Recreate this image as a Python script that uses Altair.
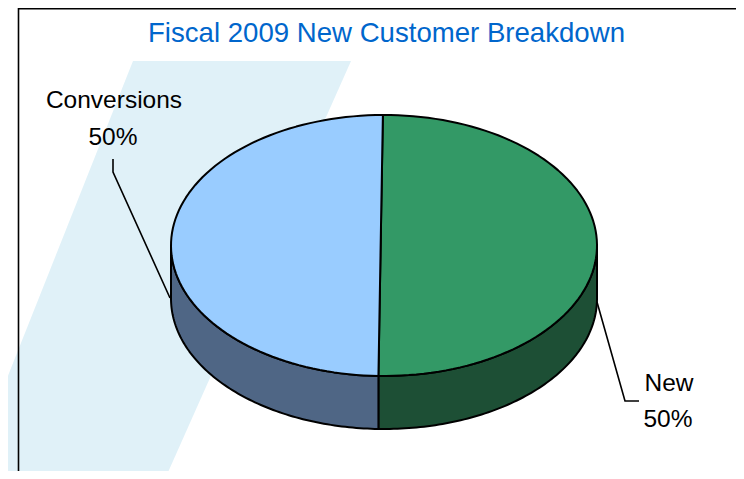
import altair as alt
import numpy as np
import pandas as pd

TITLE = "Fiscal 2009 New Customer Breakdown"
categories = ["New", "Conversions"]
shares = [50.5, 49.5]
top_colors = ["#339966", "#99ccff"]
side_colors = ["#1d4f35", "#4f6685"]

CX, CY, RX, RY, DEPTH = 384.0, 245.5, 213.0, 130.5, 53.0
START = -0.3
W, H = 728, 463
X = alt.X("x:Q", axis=None, scale=alt.Scale(domain=[8, 8 + W], nice=False, zero=False))
Y = alt.Y("y:Q", axis=None, scale=alt.Scale(domain=[8 + H, 8], nice=False, zero=False))


def arc(a0, a1):
    t = np.radians(np.linspace(a0, a1, 90))
    return CX + RX * np.sin(t), CY - RY * np.cos(t)


def filled(xs, ys, fill, width=2.0):
    df = pd.DataFrame({"x": xs, "y": ys, "i": range(len(xs))})
    return alt.Chart(df).mark_line(
        fill=fill, stroke="black", strokeWidth=width, interpolate="linear-closed",
        strokeJoin="round", clip=True,
    ).encode(x=X, y=Y, order="i:Q")


def path(xs, ys, width=1.6):
    df = pd.DataFrame({"x": xs, "y": ys, "i": range(len(xs))})
    return alt.Chart(df).mark_line(stroke="black", strokeWidth=width).encode(x=X, y=Y, order="i:Q")


def label(text, x, y, size=24.5, color="black"):
    df = pd.DataFrame({"x": [x], "y": [y], "t": [text]})
    return alt.Chart(df).mark_text(
        font="Liberation Sans", fontSize=size, color=color, baseline="alphabetic", align="center",
    ).encode(x=X, y=Y, text="t:N")


# background watermark band
band = alt.Chart(pd.DataFrame({"y": [61, 479], "x": [133, -33], "x2": [351, 165]})).mark_area(
    orient="horizontal", color="#e0f1f8", clip=True
).encode(x=X, x2="x2:Q", y=Y)

# frame
frame_top = alt.Chart(pd.DataFrame({"a": [0]})).mark_rule(color="black", strokeWidth=1.6).encode(
    x=alt.value(10.5), x2=alt.value(W), y=alt.value(0.8)
)
frame_left = alt.Chart(pd.DataFrame({"x": [18.5]})).mark_rule(color="black", strokeWidth=1.6).encode(
    x=X, y=alt.value(0), y2=alt.value(H)
)

# angles from the shares
boundaries = START + np.cumsum([0] + shares) * 3.6
layers = [band, frame_top, frame_left]

# sides (front half of the rim only)
for i, (a0, a1) in enumerate(zip(boundaries[:-1], boundaries[1:])):
    lo, hi = max(a0, 90), min(a1, 270)
    xs, ys = arc(lo, hi)
    layers.append(filled(np.r_[xs, xs[::-1]], np.r_[ys, ys[::-1] + DEPTH], side_colors[i]))
# top faces
for i, (a0, a1) in enumerate(zip(boundaries[:-1], boundaries[1:])):
    xs, ys = arc(a0, a1)
    layers.append(filled(xs, ys, top_colors[i]))

# leader lines
layers.append(path([113, 113, 170], [159, 172, 298]))
layers.append(path([597, 625, 639], [302, 401, 401]))

# labels
layers.append(label(f"{categories[1]}", 114, 108))
layers.append(label("50%", 113, 145))
layers.append(label(f"{categories[0]}", 669, 391))
layers.append(label("50%", 668, 427))
layers.append(label(TITLE, 386.5, 41.5, size=27.6, color="#0066cc"))

chart = alt.layer(*layers).properties(
    width=W, height=H, padding=0, autosize=alt.AutoSizeParams(type="none"), background="white",
).configure_view(stroke=None)

chart.save("out.html", embed_options={"renderer": "svg", "actions": False})
